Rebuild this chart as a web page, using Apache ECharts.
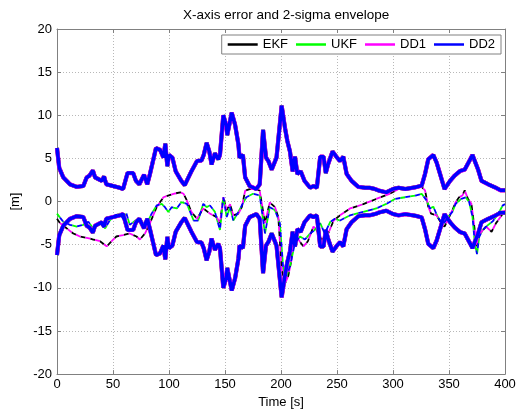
<!DOCTYPE html>
<html>
<head>
<meta charset="utf-8">
<script src="https://cdn.jsdelivr.net/npm/echarts@6/dist/echarts.min.js"></script>
<style>
html, body { margin: 0; padding: 0; background: #fff; }
#chart { width: 520px; height: 414px; }
</style>
</head>
<body>
<div id="chart"></div>
<script>
// 2-sigma envelope (upper side, lower side is the mirror)
var envTime = [
	0, 2, 5.6, 11.6, 17.6, 23.5, 26.5, 29, 32, 34,
	37, 40, 42, 44, 50, 56, 59, 63, 68, 70.5,
	73.5, 77.7, 80.6, 83, 88.4, 92, 95, 96.7, 98.5, 100,
	103, 106, 111, 114, 120, 125, 129, 131, 133.6, 136,
	138, 141, 144, 145.5, 148.5, 151, 152, 156, 159, 162,
	163, 166, 168, 172, 178, 181, 184, 186.6, 188.7, 191.7,
	196, 200.6, 203.6, 205.7, 208, 210.4, 212.5, 214.6, 217.6, 221,
	226, 229, 232, 235, 238, 240, 242, 246, 250, 252.7,
	255.6, 258.6, 263, 269, 275, 279, 284, 288, 294, 300,
	305, 311, 320, 325.6, 328.6, 331.5, 336, 339, 342, 346,
	351, 355, 360, 364, 369, 371, 373, 376, 379, 385,
	391, 396, 400
];
var envSigma2 = [
	6.2, 3.9, 2.8, 2.0, 1.7, 1.8, 2.8, 3.0, 3.6, 2.8,
	2.6, 2.4, 2.9, 2.0, 1.8, 1.6, 1.45, 3.3, 3.3, 2.4,
	2.0, 3.1, 2.0, 3.2, 6.2, 6.0, 5.1, 6.7, 4.1, 5.4,
	5.1, 3.5, 2.4, 1.9, 3.5, 4.7, 4.75, 5.4, 6.8, 5.8,
	4.3, 5.6, 4.9, 5.4, 10.0, 8.9, 7.7, 10.3, 8.9, 6.6,
	5.1, 5.4, 2.8, 1.8, 1.45, 2.0, 8.3, 5.1, 4.7, 3.7,
	5.1, 11.1, 8.5, 7.0, 5.8, 3.5, 5.2, 3.2, 3.5, 2.4,
	1.6, 1.8, 1.6, 5.2, 5.2, 3.3, 4.3, 5.8, 5.1, 4.7,
	5.2, 3.2, 2.4, 1.7, 1.6, 1.6, 1.45, 1.25, 1.06, 1.45,
	1.6, 1.46, 1.65, 1.84, 3.2, 4.9, 5.4, 4.5, 3.2, 1.46,
	2.4, 3.0, 3.55, 3.7, 4.9, 5.4, 4.7, 3.7, 2.4, 2.0,
	1.65, 1.3, 1.3
];

// error of EKF / DD1 (the two traces nearly coincide)
var errTimeA = [
	0, 2.7, 8.6, 14.6, 20.5, 26.5, 32.4, 38.4, 44.3, 48.8,
	53, 59, 65, 71, 74, 78.6, 83, 89, 95, 104,
	110, 113, 116, 120, 125, 130.6, 136.6, 142.6, 145.5, 148.5,
	151.5, 154.5, 157.4, 162, 165, 168, 172, 178, 181, 185.7,
	190, 194.6, 197.6, 200.6, 203.6, 206.5, 209.5, 211, 215.5, 220,
	224, 229, 232, 236, 241, 247, 252.7, 261.6, 273.5, 285,
	297, 305, 311, 320, 325.6, 328.6, 331.5, 334, 339, 343,
	346, 349, 353, 356, 359, 362, 364, 367, 370, 373,
	374.5, 376, 379, 383, 388, 392, 397, 400
];
var errEkfDd1 = [
	-2.0, -2.5, -3.1, -3.7, -4.05, -4.2, -4.4, -4.6, -5.2, -4.6,
	-4.05, -3.9, -3.7, -4.05, -4.4, -3.7, -2.5, -0.65, 0.5, 0.9,
	1.06, 0.9, 0.1, -1.2, -2.0, -0.8, -1.4, -1.8, -2.5, 0.5,
	-1.0, -0.3, -1.6, -1.4, -0.65, 1.25, 1.45, 1.45, 1.25, -2.5,
	-0.1, -0.65, -1.8, -7.8, -9.5, -8.6, -6.7, -4.05, -4.4, -5.2,
	-4.6, -2.9, -3.3, -4.4, -4.05, -2.2, -1.6, -0.8, -0.3, 0.3,
	0.9, 1.45, 1.5, 1.65, 1.7, 1.3, -0.6, -1.4, -1.6, -2.5,
	-2.9, -2.1, -1.0, -0.06, 0.5, 0.7, 1.3, 0.3, -0.25, -3.3,
	-5.2, -4.1, -3.5, -2.9, -3.5, -2.5, -1.6, -1.0
];

// error of UKF / DD2
var errTimeB = [
	0, 5.6, 11.6, 17.6, 23.5, 28, 32.4, 38.4, 43, 47,
	51.8, 56, 59, 62, 65, 70, 74, 77, 81.5, 84.5,
	89, 93.5, 96.4, 99.4, 102.4, 107, 111, 116, 122, 126,
	130.6, 133.6, 136.6, 141, 145.5, 148.5, 151.5, 154.5, 157.4, 162,
	165, 169, 175, 181, 185.7, 190, 194.6, 199, 202, 205,
	208, 212.5, 217, 221.4, 226, 230, 235, 239, 244, 248,
	252.7, 261.6, 273.5, 285, 294, 302, 311, 320, 325.6, 330,
	333, 336, 340, 344.6, 349, 353, 356, 361, 365, 368,
	371, 373, 375, 377, 380, 385, 389, 394, 398, 400
];
var errUkfDd2 = [
	-1.4, -2.35, -2.7, -2.9, -2.7, -2.35, -3.1, -2.5, -3.1, -2.2,
	-1.6, -1.4, -2.0, -1.4, -2.7, -2.2, -2.0, -2.5, -2.2, -1.4,
	-0.45, -0.27, -0.65, -1.2, -0.65, -0.8, -0.07, -0.27, -2.2, -2.2,
	-0.27, -0.65, -0.45, -1.2, -3.3, 0.5, -1.8, -0.65, -2.2, -1.2,
	-0.45, 0.5, 0.9, 0.7, -3.7, -0.65, -1.0, -2.5, -7.8, -8.6,
	-7.5, -4.8, -4.05, -4.4, -3.7, -3.3, -2.5, -3.7, -2.35, -2.0,
	-2.2, -1.6, -1.2, -0.8, -0.27, 0.32, 0.5, 0.7, 0.9, 0.13,
	-0.8, -0.6, -1.8, -2.7, -1.8, -1.2, -0.25, 0.32, 0.5, -0.06,
	-1.8, -4.8, -6.1, -4.1, -3.3, -2.7, -2.3, -1.4, -0.44, -0.3
];

var filters = ['EKF', 'UKF', 'DD1', 'DD2'];
var colors = ['#000000', '#00ff00', '#ff00ff', '#0000ff'];
var xTicks = [0, 50, 100, 150, 200, 250, 300, 350, 400];
var yTicks = [-20, -15, -10, -5, 0, 5, 10, 15, 20];

function pairs(t, v, sign) {
	var out = [];
	for (var i = 0; i < t.length; i++) {
		out.push([t[i], sign * v[i]]);
	}
	return out;
}

var errData = [
	pairs(errTimeA, errEkfDd1, 1),
	pairs(errTimeB, errUkfDd2, 1),
	pairs(errTimeA, errEkfDd1, 1),
	pairs(errTimeB, errUkfDd2, 1)
];
// envelope widths differ a little so the hidden ones peek out at the edges
var envWidth = [4, 3.5, 4.2, 3.5];
var dashOff = [0, 0, 5, 5];

var series = [];
for (var i = 0; i < filters.length; i++) {
	series.push({
		name : filters[i],
		type : 'line',
		symbol : 'none',
		silent : true,
		itemStyle : { color : colors[i] },
		lineStyle : { color : colors[i], width : 1.8, type : [5, 5], dashOffset : dashOff[i] },
		data : errData[i]
	});
	series.push({
		name : filters[i],
		type : 'line',
		symbol : 'none',
		silent : true,
		itemStyle : { color : colors[i] },
		lineStyle : { color : colors[i], width : envWidth[i] },
		data : pairs(envTime, envSigma2, 1)
	});
	series.push({
		name : filters[i],
		type : 'line',
		symbol : 'none',
		silent : true,
		itemStyle : { color : colors[i] },
		lineStyle : { color : colors[i], width : envWidth[i] },
		data : pairs(envTime, envSigma2, -1)
	});
}

var axisGray = '#808080';
var font = 'Liberation Sans, Arial, sans-serif';

var myChart = echarts.init(document.getElementById('chart'));
var option = {
	backgroundColor : '#ffffff',
	animation : false,
	title : {
		text : 'X-axis error and 2-sigma envelope',
		left : 178,
		top : 3,
		textStyle : { fontSize : 13.5, fontWeight : 'normal', color : '#000', fontFamily : font }
	},
	legend : {
		data : filters.map(function(n) { return { name : n, icon : 'rect' }; }),
		right : 19,
		top : 35,
		padding : [3, 6, 3, 6],
		itemGap : 8,
		itemWidth : 30,
		itemHeight : 2.5,
		backgroundColor : '#ffffff',
		borderColor : axisGray,
		borderWidth : 1,
		textStyle : { fontSize : 13, color : '#000', fontFamily : font }
	},
	grid : { left : 57, right : 15, top : 29, bottom : 34 },
	xAxis : [ {
		type : 'value',
		min : xTicks[0],
		max : xTicks[xTicks.length - 1],
		interval : 50,
		name : 'Time [s]',
		nameLocation : 'middle',
		nameGap : 20,
		nameTextStyle : { fontSize : 13, color : '#000', fontFamily : font },
		axisLine : { show : true, onZero : false, lineStyle : { color : axisGray } },
		axisTick : { inside : true, length : 4, lineStyle : { color : axisGray } },
		axisLabel : { fontSize : 13, color : '#000', margin : 4, fontFamily : font },
		splitLine : { show : true, lineStyle : { color : '#b8b8b8', type : [1, 2] } }
	}, {
		type : 'value',
		position : 'top',
		min : xTicks[0],
		max : xTicks[xTicks.length - 1],
		interval : 50,
		axisLine : { show : true, onZero : false, lineStyle : { color : axisGray } },
		axisTick : { inside : true, length : 4, lineStyle : { color : axisGray } },
		axisLabel : { show : false },
		splitLine : { show : false }
	} ],
	yAxis : [ {
		type : 'value',
		min : yTicks[0],
		max : yTicks[yTicks.length - 1],
		interval : 5,
		name : '[m]',
		nameLocation : 'middle',
		nameGap : 30,
		nameTextStyle : { fontSize : 13, color : '#000', fontFamily : font },
		axisLine : { show : true, onZero : false, lineStyle : { color : axisGray } },
		axisTick : { inside : true, length : 4, lineStyle : { color : axisGray } },
		axisLabel : { fontSize : 13, color : '#000', margin : 5, fontFamily : font },
		splitLine : { show : true, lineStyle : { color : '#b8b8b8', type : [1, 2] } }
	}, {
		type : 'value',
		position : 'right',
		min : yTicks[0],
		max : yTicks[yTicks.length - 1],
		interval : 5,
		axisLine : { show : true, onZero : false, lineStyle : { color : axisGray } },
		axisTick : { inside : true, length : 4, lineStyle : { color : axisGray } },
		axisLabel : { show : false },
		splitLine : { show : false }
	} ],
	series : series
};
myChart.setOption(option);
</script>
</body>
</html>
